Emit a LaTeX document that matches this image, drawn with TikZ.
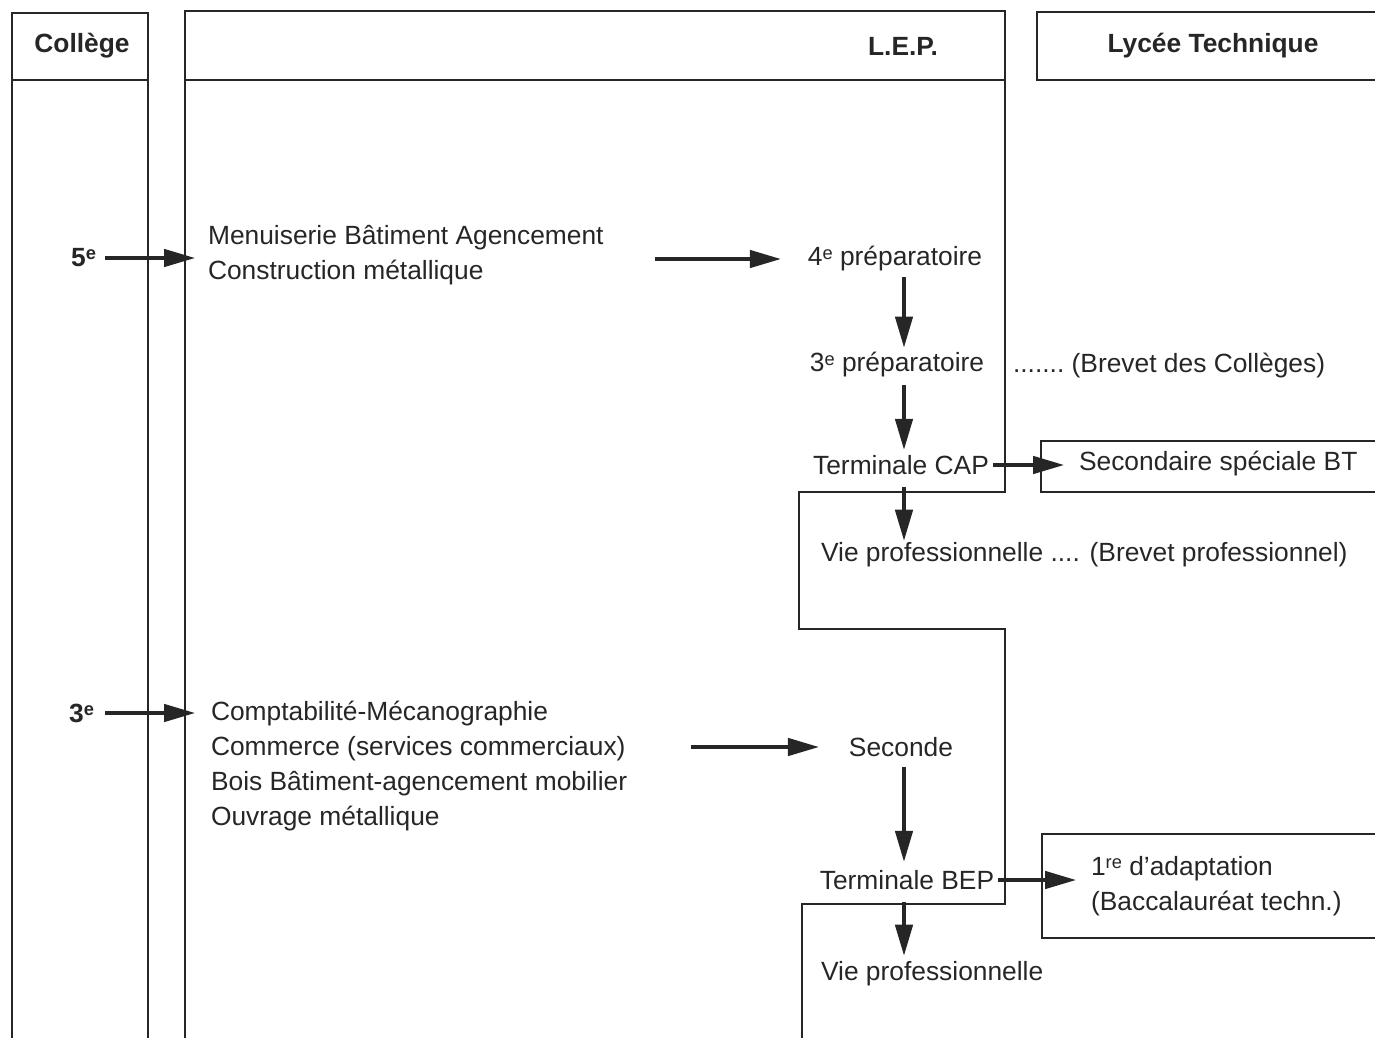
\documentclass[tikz,border=0pt]{standalone}
\usepackage{fontspec}
\setmainfont{Liberation Sans}
\usetikzlibrary{arrows.meta}
\newcommand\expo[1]{\raisebox{0.5ex}{\fontsize{5.2}{5.2}\selectfont #1}}

\begin{document}
\begin{tikzpicture}[x=0.1mm,y=-0.1mm,line width=0.6pt,
  every node/.style={inner sep=0pt,text=black!85,font=\fontsize{7.5}{9.9}\selectfont},
  head/.style={font=\fontsize{7.5}{9.9}\selectfont\bfseries},
  lines/.style={align=left,anchor=west},
  frame/.style={draw=black!85},
  arr/.style={draw=black!85,line width=0.9pt,-{Triangle[length=3.1mm,width=1.75mm]}}]
\useasboundingbox (0,0) rectangle (1375,1038);
% columns
\draw[frame] (12,1038) -- (12,13) -- (148,13) -- (148,1038) (12,80) -- (148,80);
\draw[frame] (185,1038) -- (185,11) -- (1005,11) -- (1005,492) -- (799,492) -- (799,629)
  -- (1005,629) -- (1005,904) -- (802,904) -- (802,1038) (185,80) -- (1005,80);
\draw[frame] (1375,12) -- (1037,12) -- (1037,80) -- (1375,80);
\draw[frame] (1375,441) -- (1041,441) -- (1041,492) -- (1375,492);
\draw[frame] (1375,834) -- (1042,834) -- (1042,938) -- (1375,938);
% headers
\node[head] (college) at (82,46) {Collège};
\node[head] (lep) at (903,46) {L.E.P.};
\node[head] (lycee) at (1213,46) {Lycée Technique};
% after 5e
\node[head,anchor=east] (c5) at (97,258) {5\expo{e}};
\node[lines] (menuis) at (207,255) {Menuiserie Bâtiment Agencement\\Construction métallique};
\node (prep4) at (895,259) {4\expo{e} préparatoire};
\node (prep3) at (897,365) {3\expo{e} préparatoire};
\node[anchor=west] (brevc) at (1012,366) {.......\ (Brevet des Collèges)};
\node (termcap) at (901,465) {Terminale CAP};
\node[anchor=west] (secbt) at (1078,464) {Secondaire spéciale BT};
\node[anchor=west] (vie1) at (820,555) {Vie professionnelle .... (Brevet professionnel)};
% after 3e
\node[head,anchor=east] (c3) at (95,713) {3\expo{e}};
\node[lines] (filieres) at (210,766) {Comptabilité-Mécanographie\\Commerce (services commerciaux)\\Bois Bâtiment-agencement mobilier\\Ouvrage métallique};
\node (seconde) at (901,747) {Seconde};
\node (termbep) at (907,880) {Terminale BEP};
\node[lines] (adapt) at (1090,886) {1\expo{re} d’adaptation\\(Baccalauréat techn.)};
\node[anchor=west] (vie2) at (820,974) {Vie professionnelle};
\coordinate (axis) at (904,0);
% arrows
\draw[arr,shorten <=0.8mm,shorten >=1.2mm] (c5.east) -- (c5.east -| menuis.west);
\draw[arr,shorten <=5mm,shorten >=2.6mm] (menuis.east |- prep4) -- (prep4.west);
\draw[arr,shorten <=0.5mm,shorten >=0.4mm] (prep4.south -| axis) -- (prep3.north -| axis);
\draw[arr,shorten <=0.6mm,shorten >=0.45mm] (prep3.south -| axis) -- (termcap.north -| axis);
\draw[arr,shorten <=0.3mm,shorten >=1.4mm] (termcap.east) -- (termcap.east -| secbt.west);
\draw[arr,shorten <=1.1mm,shorten >=0.1mm] (termcap.south -| axis) -- (vie1.north -| axis);
\draw[arr,shorten <=1mm,shorten >=1.5mm] (c3.east) -- (c3.east -| filieres.west);
\draw[arr,shorten <=6.3mm,shorten >=2.9mm] (filieres.east |- seconde) -- (seconde.west);
\draw[arr,shorten <=0.9mm,shorten >=0.75mm] (seconde.south -| axis) -- (termbep.north -| axis);
\draw[arr,shorten <=0.3mm,shorten >=1.4mm] (termbep.east) -- (termbep.east -| adapt.west);
\draw[arr,shorten <=1.1mm,shorten >=0.5mm] (termbep.south -| axis) -- (vie2.north -| axis);
\end{tikzpicture}
\end{document}
